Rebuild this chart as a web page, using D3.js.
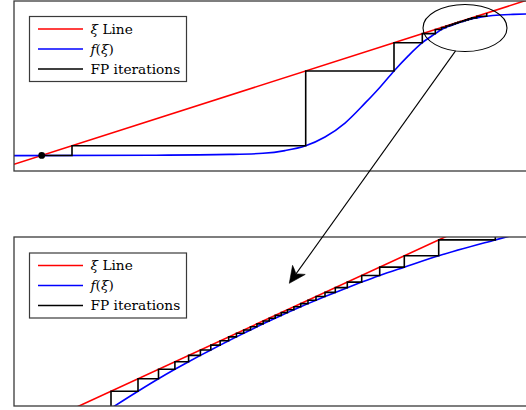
<!DOCTYPE html>
<html>
<head>
<meta charset="utf-8">
<script src="https://cdn.jsdelivr.net/npm/d3@7"></script>
<style>
  html, body { margin: 0; padding: 0; background: #fff; }
  svg { display: block; }
  text { font-family: "DejaVu Serif", "Liberation Serif", serif; font-size: 13.7px; fill: #000; }
</style>
</head>
<body>
<svg id="chart" width="526" height="410"></svg>
<script>
// ---------------- data ----------------
// identity line  ξ -> ξ  spans the whole ξ range
const xiRange = [0, 5.3];

// f(ξ): sigmoid-shaped map, full view
const fXi  = [0, 1.36, 2.16, 2.49, 2.71, 2.917, 3.11, 3.31, 3.51, 3.66, 3.80, 3.94, 4.083,
              4.213, 4.275, 4.32, 4.355, 4.385, 4.412, 4.438, 4.463, 4.488, 4.514, 4.543,
              4.576, 4.627, 4.727, 4.86, 4.99, 5.12, 5.3];
const fVal = [0.272, 0.284, 0.309, 0.344, 0.428, 0.58, 0.852, 1.29, 1.91, 2.41, 2.917, 3.38, 3.80,
              4.083, 4.213, 4.275, 4.32, 4.355, 4.385, 4.412, 4.438, 4.463, 4.488, 4.514,
              4.543, 4.576, 4.627, 4.666, 4.684, 4.697, 4.71];

// fixed-point iterates, full view (starts at the lower fixed point)
const fpIter = [0.277, 0.58, 2.917, 3.80, 4.083, 4.213, 4.275, 4.32, 4.355, 4.385, 4.412,
                4.438, 4.463, 4.488, 4.514, 4.543, 4.576, 4.627, 4.727];

// f(ξ) in the magnified view near the upper bottleneck
const fZoomXi  = [0.97, 1.24, 1.445, 1.609, 1.746, 1.864, 1.968, 2.0615, 2.1465, 2.2245, 2.297,
                  2.365, 2.4295, 2.4915, 2.552, 2.612, 2.6725, 2.7345, 2.799, 2.867, 2.94, 3.02,
                  3.11, 3.213, 3.333, 3.477, 3.657, 3.903, 4.247, 4.813, 5.84];
const fZoomVal = [0.60, 0.97, 1.24, 1.445, 1.609, 1.746, 1.864, 1.968, 2.0615, 2.1465, 2.2245,
                  2.297, 2.365, 2.4295, 2.4915, 2.552, 2.612, 2.6725, 2.7345, 2.799, 2.867, 2.94,
                  3.02, 3.11, 3.213, 3.333, 3.477, 3.657, 3.903, 4.247, 4.813];

// fixed-point iterates in the magnified view
const fpZoomIter = [0.60, 0.97, 1.24, 1.445, 1.609, 1.746, 1.864, 1.968, 2.0615, 2.1465, 2.2245,
                    2.297, 2.365, 2.4295, 2.4915, 2.552, 2.612, 2.6725, 2.7345, 2.799, 2.867, 2.94,
                    3.02, 3.11, 3.213, 3.333, 3.477, 3.657, 3.903, 4.247, 4.813, 5.84];

// legend entries: [text, italic] runs
const legendLabels = [
  [["ξ", true], [" Line", false]],
  [["f", true], ["(", false], ["ξ", true], [")", false]],
  [["FP iterations", false]]
];

// ---------------- styling / layout ----------------
const RED = "#ff0000", BLUE = "#0000ff", BLACK = "#000000";
const seriesColors = [RED, BLUE, BLACK];
const LW = 1.6;

const svg = d3.select("#chart");
const defs = svg.append("defs");

const topPanel = {
  x: d3.scaleLinear().domain(xiRange).range([14, 544]),
  y: d3.scaleLinear().domain([-0.2094, 5.1031]).range([171, 1]),
  legend: { x: 29.5, y: 16.5, w: 157, h: 65 },
  id: "clipTop"
};
const zoomPanel = {
  x: d3.scaleLinear().domain(xiRange).range([14, 544]),
  y: d3.scaleLinear().domain([0.65, 4.31]).range([406, 237]),
  legend: { x: 29.5, y: 253, w: 157, h: 65 },
  id: "clipZoom"
};

function staircase(iter) {
  const pts = [[iter[0], iter[0]]];
  for (let i = 1; i < iter.length; i++) {
    pts.push([iter[i], iter[i - 1]]);
    pts.push([iter[i], iter[i]]);
  }
  return pts;
}

function drawPanel(p, curveXi, curveVal, iter, withDot) {
  const [x0, x1] = p.x.range();
  const [y1, y0] = p.y.range();
  defs.append("clipPath").attr("id", p.id)
    .append("rect").attr("x", x0).attr("y", y0).attr("width", x1 - x0).attr("height", y1 - y0);

  const g = svg.append("g").attr("clip-path", `url(#${p.id})`);
  const line = d3.line().x(d => p.x(d[0])).y(d => p.y(d[1]));

  // ξ line
  g.append("path")
    .attr("d", line(xiRange.map(v => [v, v])))
    .attr("fill", "none").attr("stroke", RED).attr("stroke-width", LW);

  // f(ξ)
  const fLine = d3.line().curve(d3.curveMonotoneX).x(d => p.x(d[0])).y(d => p.y(d[1]));
  g.append("path")
    .attr("d", fLine(curveXi.map((v, i) => [v, curveVal[i]])))
    .attr("fill", "none").attr("stroke", BLUE).attr("stroke-width", LW);

  // fixed-point iterations
  g.append("path")
    .attr("d", line(staircase(iter)))
    .attr("fill", "none").attr("stroke", BLACK).attr("stroke-width", LW)
    .attr("stroke-linejoin", "miter");

  if (withDot) {
    g.append("circle")
      .attr("cx", p.x(iter[0])).attr("cy", p.y(iter[0])).attr("r", 3.4)
      .attr("fill", BLACK);
  }

  // axis frame (right side runs past the window)
  svg.append("rect")
    .attr("x", x0).attr("y", y0).attr("width", x1 - x0).attr("height", y1 - y0)
    .attr("fill", "none").attr("stroke", "#3a3a3a").attr("stroke-width", 1.3);

  // legend
  const L = p.legend;
  const lg = svg.append("g");
  lg.append("rect")
    .attr("x", L.x).attr("y", L.y).attr("width", L.w).attr("height", L.h)
    .attr("fill", "#fff").attr("stroke", "#3a3a3a").attr("stroke-width", 1.2);
  legendLabels.forEach((parts, i) => {
    const ly = L.y + 12.5 + i * 20;
    lg.append("line")
      .attr("x1", L.x + 8.5).attr("x2", L.x + 53.5).attr("y1", ly).attr("y2", ly)
      .attr("stroke", seriesColors[i]).attr("stroke-width", LW);
    const t = lg.append("text").attr("x", L.x + 61).attr("y", ly + 4.8);
    parts.forEach(([s, it]) => {
      t.append("tspan").attr("font-style", it ? "italic" : "normal").text(s);
    });
  });
}

drawPanel(topPanel, fXi, fVal, fpIter, true);
drawPanel(zoomPanel, fZoomXi, fZoomVal, fpZoomIter, false);

// magnifier: ellipse round the bottleneck, arrow down to the zoomed view
const lens = { cx: 4.51, cy: 4.26, rx: 0.42, ry: 0.735 };
const ecx = topPanel.x(lens.cx), ecy = topPanel.y(lens.cy);
const erx = topPanel.x(lens.cx + lens.rx) - ecx, ery = ecy - topPanel.y(lens.cy + lens.ry);
svg.append("ellipse")
  .attr("cx", ecx).attr("cy", ecy).attr("rx", erx).attr("ry", ery)
  .attr("fill", "none").attr("stroke", BLACK).attr("stroke-width", 1.1);

const ang = 103 * Math.PI / 180;
const sx = ecx + erx * Math.cos(ang), sy = ecy + ery * Math.sin(ang);
const tipData = [2.753, 3.307];
const tx = zoomPanel.x(tipData[0]), ty = zoomPanel.y(tipData[1]);
const len = Math.hypot(tx - sx, ty - sy);
const ux = (tx - sx) / len, uy = (ty - sy) / len;
const nx = -uy, ny = ux;
const headL = 16.5, headW = 7.8, inset = 11;
const bx = tx - ux * inset, by = ty - uy * inset;
svg.append("line")
  .attr("x1", sx).attr("y1", sy).attr("x2", bx + ux * 1).attr("y2", by + uy * 1)
  .attr("stroke", BLACK).attr("stroke-width", 1.1);
svg.append("path")
  .attr("d", `M${tx},${ty} L${tx - ux * headL + nx * headW},${ty - uy * headL + ny * headW} ` +
             `Q${bx - ux * 1},${by - uy * 1} ${bx},${by} ` +
             `Q${bx - ux * 1},${by - uy * 1} ${tx - ux * headL - nx * headW},${ty - uy * headL - ny * headW} Z`)
  .attr("fill", BLACK).attr("stroke", BLACK).attr("stroke-width", 0.6).attr("stroke-linejoin", "miter");
</script>
</body>
</html>
